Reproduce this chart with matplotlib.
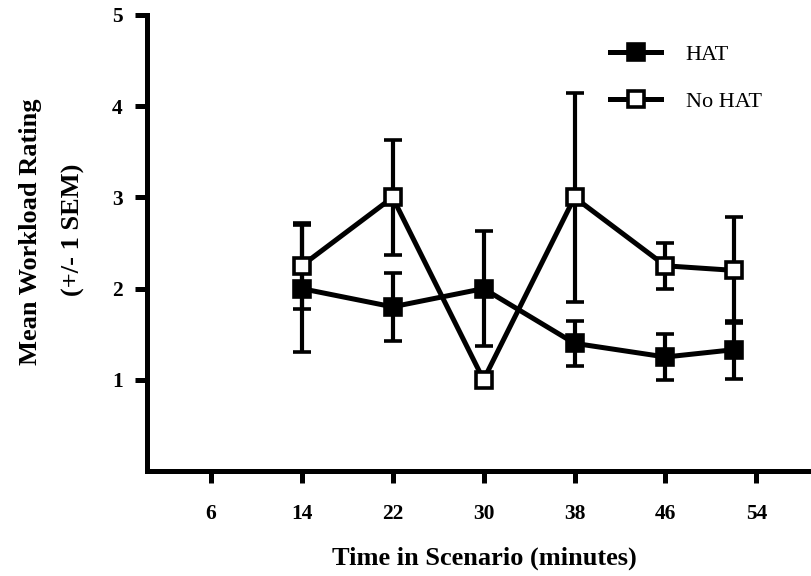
import matplotlib
matplotlib.use("Agg")
import matplotlib.pyplot as plt

# Data
time_min = [14, 22, 30, 38, 46, 52]
hat_mean = [2.0, 1.8, 2.0, 1.4, 1.25, 1.33]
hat_sem = [0.70, 0.37, 0.63, 0.25, 0.25, 0.32]
nohat_mean = [2.25, 3.0, 1.0, 3.0, 2.25, 2.2]
nohat_sem = [0.47, 0.63, 0.0, 1.15, 0.25, 0.58]
xticks = [6, 14, 22, 30, 38, 46, 54]
yticks = [1, 2, 3, 4, 5]

W, H = 811, 576
fig = plt.figure(figsize=(W / 100, H / 100), dpi=100)
serif = ["Liberation Serif", "DejaVu Serif"]
plt.rcParams["font.family"] = serif

ax_l, ax_b, ax_t = 147, 105, 561
ax = fig.add_axes([ax_l / W, ax_b / H, 1 - ax_l / W, (ax_t - ax_b) / H])
ax.set_xlim(0.4, 58.8)
ax.set_ylim(0, 5)

lw = 3.6
common = dict(color="black", linewidth=lw, elinewidth=3.0, capsize=6.5,
              capthick=3.0, marker="s", markersize=11.5, markeredgewidth=2.6)
ax.errorbar(time_min, hat_mean, yerr=hat_sem, markerfacecolor="black",
            markeredgecolor="black", label="HAT", zorder=3, **common)
ax.errorbar(time_min, nohat_mean, yerr=nohat_sem, markerfacecolor="white",
            markeredgecolor="black", label="No HAT", zorder=4, **common)

for s in ["top", "right"]:
    ax.spines[s].set_visible(False)
for s in ["left", "bottom"]:
    ax.spines[s].set_linewidth(3.6)
ax.spines["left"].set_bounds(0, 5)

ax.set_xticks(xticks)
ax.set_xticklabels([str(t) for t in xticks])
ax.set_yticks(yticks)
ax.set_yticklabels([str(t) for t in yticks])
ax.tick_params(axis="both", direction="out", length=8.5, width=3.6,
               labelsize=15.5)
ax.tick_params(axis="x", pad=15)
ax.tick_params(axis="y", pad=9)
for lab in ax.get_xticklabels() + ax.get_yticklabels():
    lab.set_fontweight("bold")

fig.text(484 / W, 1 - 558 / H, "Time in Scenario (minutes)", ha="center",
         va="center", fontsize=19, fontweight="bold")
fig.text(31 / W, 1 - 232 / H, "Mean Workload Rating", ha="center",
         va="center", rotation=90, fontsize=19, fontweight="bold")
fig.text(73 / W, 1 - 230 / H, "(+/- 1 SEM)", ha="center", va="center",
         rotation=90, fontsize=19, fontweight="bold")

handles, labels = ax.get_legend_handles_labels()
handles = [h[0] if isinstance(h, tuple) else h for h in handles]
leg = ax.legend(handles, labels, loc="upper left",
                bbox_to_anchor=(610 / W, 1 - 44 / H),
                bbox_transform=fig.transFigure, frameon=False,
                fontsize=16, handlelength=2.3, handletextpad=1.1,
                labelspacing=1.2, borderpad=0, borderaxespad=0)

fig.savefig("out.png", dpi=100)
